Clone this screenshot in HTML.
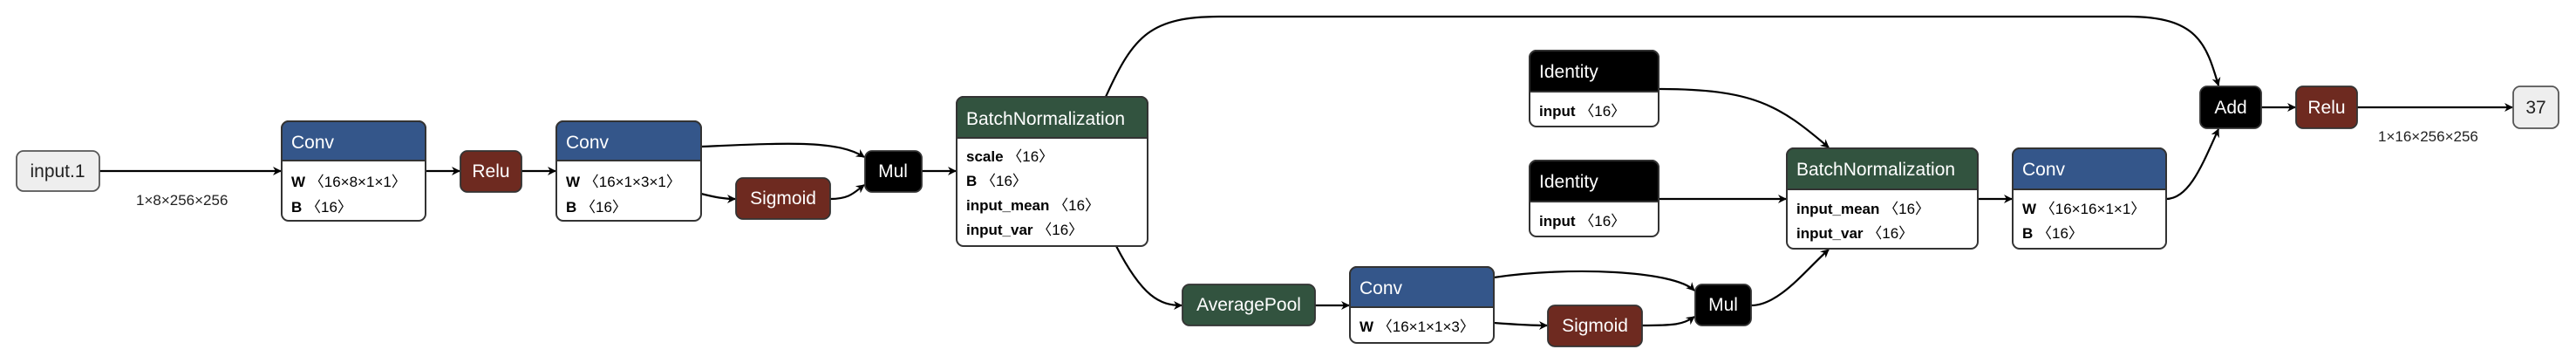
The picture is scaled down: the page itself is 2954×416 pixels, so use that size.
<!DOCTYPE html>
<html><head><meta charset="utf-8"><style>
html,body{margin:0;padding:0;background:#fff;}
svg{display:block;}
text{font-family:"Liberation Sans","DejaVu Sans",sans-serif;}
.h{fill:#fff;font-size:21px;}
.r{fill:#000;font-size:17px;}
.b{font-weight:bold;}
.e{fill:none;stroke:#000;stroke-width:2.2;}
.lbl{font-size:17px;fill:#222;}
</style></head><body>
<svg width="2954" height="416" viewBox="0 0 2954 416" xmlns="http://www.w3.org/2000/svg">
<defs>
<marker id="a" markerWidth="10" markerHeight="10" refX="9" refY="5" orient="auto" markerUnits="userSpaceOnUse">
<path d="M0,0 L10,5 L0,10 L3,5 z" fill="#000"/>
</marker>
</defs>

<g class="e" marker-end="url(#a)">
<path d="M114,196 L322,196"/>
<path d="M488,196 L527,196"/>
<path d="M598,196 L637,196"/>
<path d="M804,168 C900,164 960,160 991,180"/>
<path d="M804,222 C820,226 830,228 843,228"/>
<path d="M952,228 C975,228 980,220 991,212"/>
<path d="M1057,196 L1096,196"/>
<path d="M1280,282 C1310,340 1330,350 1355,350"/>
<path d="M1508,350 L1547,350"/>
<path d="M1713,318 C1800,305 1920,310 1943,333"/>
<path d="M1713,370 C1740,372 1755,373 1774,373"/>
<path d="M1883,373 C1920,373 1930,372 1943,363"/>
<path d="M2008,350 C2040,350 2070,310 2097,286"/>
<path d="M1902,102 C2010,102 2040,120 2097,169"/>
<path d="M1902,228 L2048,228"/>
<path d="M2268,228 L2307,228"/>
<path d="M2484,228 C2510,228 2525,190 2544,148"/>
<path d="M1268,111 C1300,40 1320,19 1400,19 L2440,19 C2520,19 2530,50 2544,98"/>
<path d="M2593,123 L2632,123"/>
<path d="M2703,123 L2881,123"/>
</g>
<text class="lbl" x="156" y="235">1×8×256×256</text>
<text class="lbl" x="2727" y="162">1×16×256×256</text>

<rect x="19" y="173" width="95" height="46" rx="8" fill="#eee" stroke="#555" stroke-width="1.8"/>
<text x="66" y="203" text-anchor="middle" font-size="21" fill="#222">input.1</text>

<g>
<rect x="323" y="139" width="165" height="114" rx="8" fill="#fff" stroke="#333" stroke-width="2"/>
<path d="M323,184 V147 a8,8 0 0 1 8,-8 H480 a8,8 0 0 1 8,8 V184 z" fill="#34568a" stroke="#333" stroke-width="2"/>
<text class="h" x="334" y="170">Conv</text>
<text class="r" x="334" y="214"><tspan class="b">W</tspan> 〈16×8×1×1〉</text>
<text class="r" x="334" y="243"><tspan class="b">B</tspan> 〈16〉</text>
</g>

<rect x="528" y="173" width="70" height="47" rx="8" fill="#6e2a20" stroke="#333" stroke-width="1.8"/>
<text class="h" x="563" y="203" text-anchor="middle">Relu</text>

<g>
<rect x="638" y="139" width="166" height="114" rx="8" fill="#fff" stroke="#333" stroke-width="2"/>
<path d="M638,184 V147 a8,8 0 0 1 8,-8 H796 a8,8 0 0 1 8,8 V184 z" fill="#34568a" stroke="#333" stroke-width="2"/>
<text class="h" x="649" y="170">Conv</text>
<text class="r" x="649" y="214"><tspan class="b">W</tspan> 〈16×1×3×1〉</text>
<text class="r" x="649" y="243"><tspan class="b">B</tspan> 〈16〉</text>
</g>

<rect x="844" y="204" width="108" height="47" rx="8" fill="#6e2a20" stroke="#333" stroke-width="1.8"/>
<text class="h" x="898" y="234" text-anchor="middle">Sigmoid</text>

<rect x="992" y="173" width="65" height="47" rx="8" fill="#000" stroke="#333" stroke-width="1.8"/>
<text class="h" x="1024" y="203" text-anchor="middle">Mul</text>

<g>
<rect x="1097" y="111" width="219" height="171" rx="8" fill="#fff" stroke="#333" stroke-width="2"/>
<path d="M1097,158 V119 a8,8 0 0 1 8,-8 H1308 a8,8 0 0 1 8,8 V158 z" fill="#32533f" stroke="#333" stroke-width="2"/>
<text class="h" x="1108" y="143">BatchNormalization</text>
<text class="r" x="1108" y="185"><tspan class="b">scale</tspan> 〈16〉</text>
<text class="r" x="1108" y="213"><tspan class="b">B</tspan> 〈16〉</text>
<text class="r" x="1108" y="241"><tspan class="b">input_mean</tspan> 〈16〉</text>
<text class="r" x="1108" y="269"><tspan class="b">input_var</tspan> 〈16〉</text>
</g>

<rect x="1356" y="326" width="152" height="47" rx="8" fill="#32533f" stroke="#333" stroke-width="1.8"/>
<text class="h" x="1432" y="356" text-anchor="middle">AveragePool</text>

<g>
<rect x="1548" y="306" width="165" height="87" rx="8" fill="#fff" stroke="#333" stroke-width="2"/>
<path d="M1548,352 V314 a8,8 0 0 1 8,-8 H1705 a8,8 0 0 1 8,8 V352 z" fill="#34568a" stroke="#333" stroke-width="2"/>
<text class="h" x="1559" y="337">Conv</text>
<text class="r" x="1559" y="380"><tspan class="b">W</tspan> 〈16×1×1×3〉</text>
</g>

<rect x="1775" y="350" width="108" height="47" rx="8" fill="#6e2a20" stroke="#333" stroke-width="1.8"/>
<text class="h" x="1829" y="380" text-anchor="middle">Sigmoid</text>

<rect x="1944" y="326" width="64" height="47" rx="8" fill="#000" stroke="#333" stroke-width="1.8"/>
<text class="h" x="1976" y="356" text-anchor="middle">Mul</text>

<g>
<rect x="1754" y="58" width="148" height="87" rx="8" fill="#fff" stroke="#333" stroke-width="2"/>
<path d="M1754,105 V66 a8,8 0 0 1 8,-8 H1894 a8,8 0 0 1 8,8 V105 z" fill="#000" stroke="#333" stroke-width="2"/>
<text class="h" x="1765" y="89">Identity</text>
<text class="r" x="1765" y="133"><tspan class="b">input</tspan> 〈16〉</text>
</g>

<g>
<rect x="1754" y="184" width="148" height="87" rx="8" fill="#fff" stroke="#333" stroke-width="2"/>
<path d="M1754,231 V192 a8,8 0 0 1 8,-8 H1894 a8,8 0 0 1 8,8 V231 z" fill="#000" stroke="#333" stroke-width="2"/>
<text class="h" x="1765" y="215">Identity</text>
<text class="r" x="1765" y="259"><tspan class="b">input</tspan> 〈16〉</text>
</g>

<g>
<rect x="2049" y="170" width="219" height="115" rx="8" fill="#fff" stroke="#333" stroke-width="2"/>
<path d="M2049,217 V178 a8,8 0 0 1 8,-8 H2260 a8,8 0 0 1 8,8 V217 z" fill="#32533f" stroke="#333" stroke-width="2"/>
<text class="h" x="2060" y="201">BatchNormalization</text>
<text class="r" x="2060" y="245"><tspan class="b">input_mean</tspan> 〈16〉</text>
<text class="r" x="2060" y="273"><tspan class="b">input_var</tspan> 〈16〉</text>
</g>

<g>
<rect x="2308" y="170" width="176" height="115" rx="8" fill="#fff" stroke="#333" stroke-width="2"/>
<path d="M2308,217 V178 a8,8 0 0 1 8,-8 H2476 a8,8 0 0 1 8,8 V217 z" fill="#34568a" stroke="#333" stroke-width="2"/>
<text class="h" x="2319" y="201">Conv</text>
<text class="r" x="2319" y="245"><tspan class="b">W</tspan> 〈16×16×1×1〉</text>
<text class="r" x="2319" y="273"><tspan class="b">B</tspan> 〈16〉</text>
</g>

<rect x="2523" y="99" width="70" height="48" rx="8" fill="#000" stroke="#333" stroke-width="1.8"/>
<text class="h" x="2558" y="130" text-anchor="middle">Add</text>

<rect x="2633" y="99" width="70" height="48" rx="8" fill="#6e2a20" stroke="#333" stroke-width="1.8"/>
<text class="h" x="2668" y="130" text-anchor="middle">Relu</text>

<rect x="2882" y="99" width="52" height="48" rx="8" fill="#eee" stroke="#555" stroke-width="1.8"/>
<text x="2908" y="130" text-anchor="middle" font-size="21" fill="#222">37</text>
</svg>
</body></html>
